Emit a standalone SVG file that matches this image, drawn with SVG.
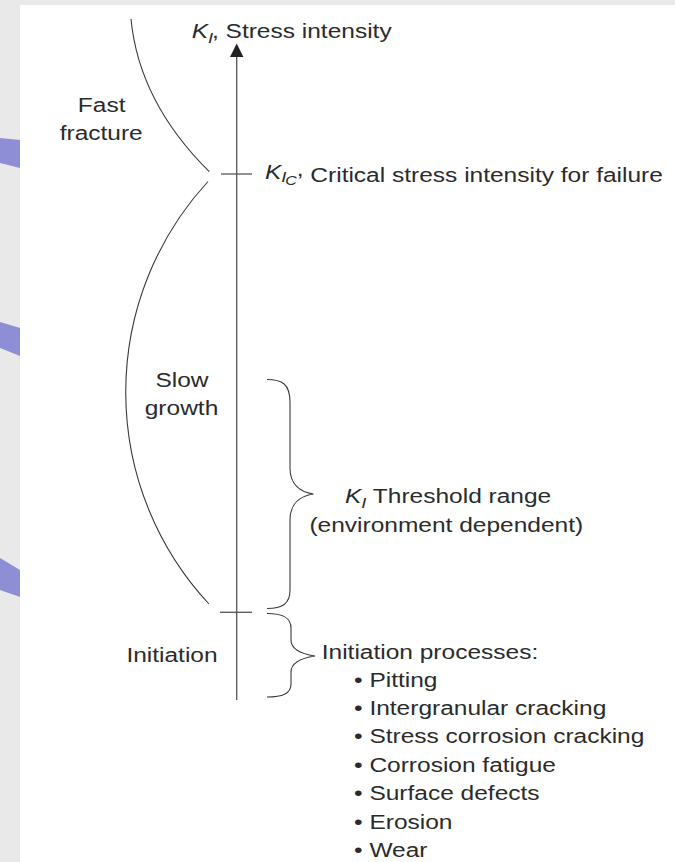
<svg xmlns="http://www.w3.org/2000/svg" width="675" height="862" viewBox="0 0 675 862">
<style>
text{font-family:"Liberation Sans",Arial,Helvetica,sans-serif;font-size:20px;fill:#2b2b2b}
.it{font-style:italic}
.ln{fill:none;stroke:#3a3a3a;stroke-width:1.1}
.ax{fill:none;stroke:#555;stroke-width:1.3}
.band{fill:#8e8ed6}
</style>
<g id="background">
<rect x="0" y="0" width="675" height="862" fill="#e9e9e9"/>
<rect x="20" y="5" width="655" height="857" fill="#ffffff"/>
<polygon class="band" points="0,138 20,140 20,168 0,163"/>
<polygon class="band" points="0,322 20,328 20,356 0,348"/>
<polygon class="band" points="0,558 20,570 20,597 0,590"/>
</g>
<g id="connectors">
<line class="ax" x1="236.7" y1="56" x2="236.7" y2="700"/>
<polygon points="236.7,43.5 230,57 243.4,57" fill="#222"/>
<line class="ax" x1="221" y1="174" x2="252" y2="174"/>
<line class="ax" x1="220" y1="612.3" x2="252" y2="612.3"/>
<path class="ln" d="M131,19 Q139,102 209.3,171.7"/>
<path class="ln" d="M208,181.5 A311,311 0 0 0 209,604"/>
<path class="ln" d="M267,379.5 C282,379.5 290,384 290,402 L290,468 C290,484 300,492 313.5,494 C300,496 290,504 290,520 L290,590 C290,604 282,608.5 267,608.5"/>
<path class="ln" d="M267,613.5 C282,613.5 291,617 291,628 L291,640 C291,650 302,654 315,656 C302,658 291,662 291,672 L291,684 C291,694 282,697 267,697"/>
</g>
<g id="axis-label">
<text transform="matrix(1.225 0 0 1 191.7 37.5)"><tspan class="it">K</tspan><tspan class="it" font-size="15" dy="5">I</tspan><tspan dy="-5" dx="-1">, Stress intensity</tspan></text>
</g>
<g id="kic-label">
<text transform="matrix(1.225 0 0 1 265 179.3)"><tspan class="it">K</tspan><tspan class="it" font-size="15" dy="3">I</tspan><tspan class="it" font-size="13" dy="3" dx="-1">C</tspan><tspan dy="-9">,</tspan><tspan dy="6"> Critical stress intensity for failure</tspan></text>
</g>
<g id="fast-fracture">
<text text-anchor="middle" transform="matrix(1.225 0 0 1 101.7 111.7)">Fast</text>
<text text-anchor="middle" transform="matrix(1.225 0 0 1 101.2 140)">fracture</text>
</g>
<g id="slow-growth">
<text text-anchor="middle" transform="matrix(1.225 0 0 1 182 386.7)">Slow</text>
<text text-anchor="middle" transform="matrix(1.225 0 0 1 181.5 415)">growth</text>
</g>
<g id="initiation">
<text text-anchor="middle" transform="matrix(1.225 0 0 1 172 661.7)">Initiation</text>
</g>
<g id="threshold">
<text transform="matrix(1.225 0 0 1 345 503.3)"><tspan class="it">K</tspan><tspan class="it" font-size="15" dy="5">I</tspan><tspan dy="-5"> Threshold range</tspan></text>
<text text-anchor="middle" transform="matrix(1.225 0 0 1 446.3 531.7)">(environment dependent)</text>
</g>
<g id="initiation-processes">
<text transform="matrix(1.225 0 0 1 321.7 659)">Initiation processes:</text>
<text transform="matrix(1.225 0 0 1 354 686.5)">• Pitting</text>
<text transform="matrix(1.225 0 0 1 354 714.9)">• Intergranular cracking</text>
<text transform="matrix(1.225 0 0 1 354 743.3)">• Stress corrosion cracking</text>
<text transform="matrix(1.225 0 0 1 354 771.7)">• Corrosion fatigue</text>
<text transform="matrix(1.225 0 0 1 354 800.1)">• Surface defects</text>
<text transform="matrix(1.225 0 0 1 354 828.5)">• Erosion</text>
<text transform="matrix(1.225 0 0 1 354 856.9)">• Wear</text>
</g>
</svg>
